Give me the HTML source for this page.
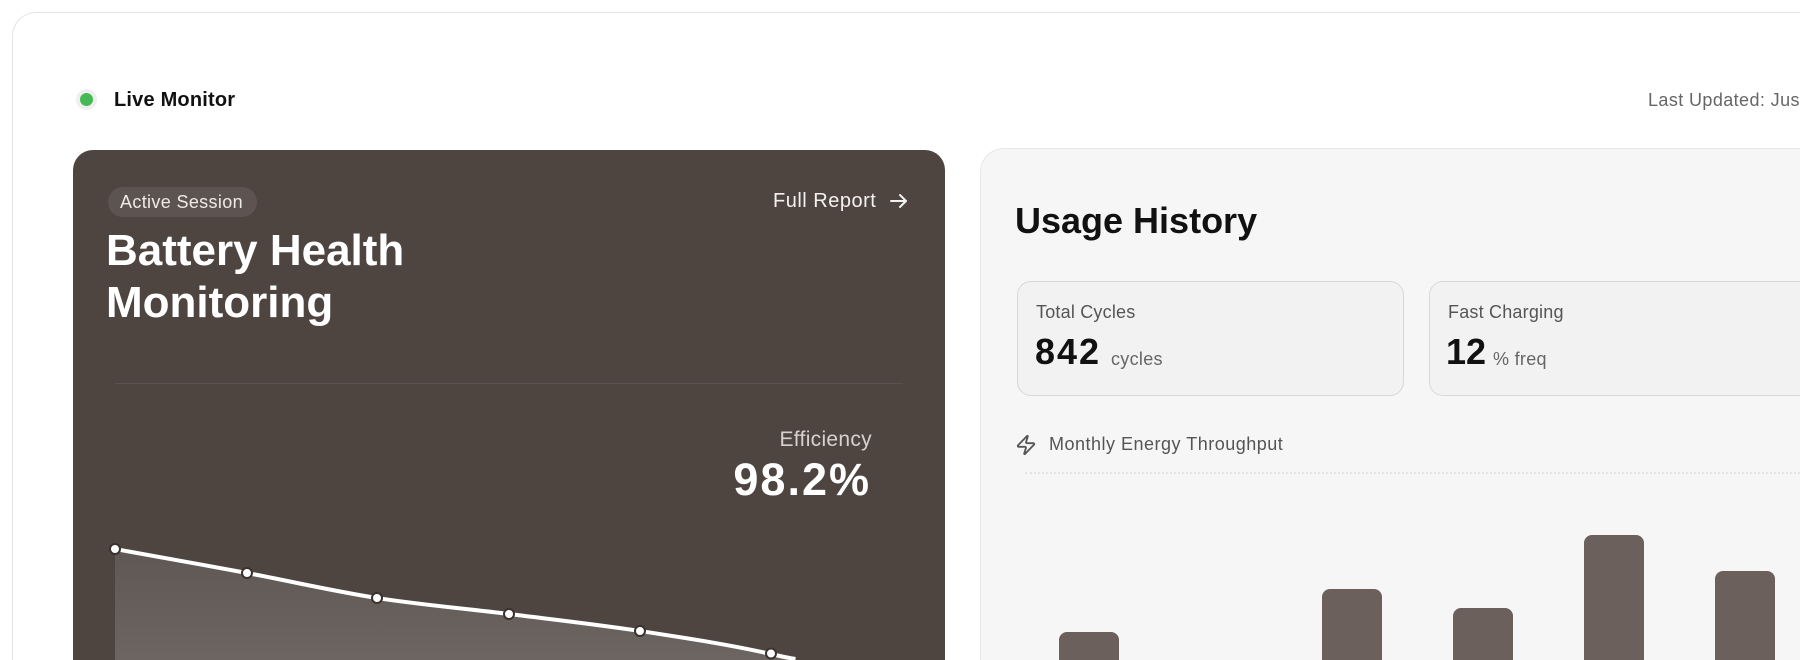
<!DOCTYPE html>
<html>
<head>
<meta charset="utf-8">
<style>
  html, body { margin:0; padding:0; width:1800px; height:660px; overflow:hidden; background:#ffffff; }
  #wrap { position:relative; width:1800px; height:660px; overflow:hidden; background:#fff;
          font-family:"Liberation Sans", Arial, sans-serif; }
  .abs { position:absolute; white-space:nowrap; line-height:1; }
  .outer { position:absolute; left:12px; top:12px; width:1788px; height:648px; box-sizing:border-box;
           border:1px solid #e4e4e4; border-right:none; border-bottom:none; border-radius:24px 0 0 0; background:#fff; }
  .dot { position:absolute; left:80px; top:93px; width:13px; height:13px; border-radius:50%;
         background:#45b954; box-shadow:0 0 0 4px #efefef; }
  .card { position:absolute; left:73px; top:150px; width:872px; height:510px;
          background:#4e4541; border-radius:20px 20px 0 0; }
  .pill { position:absolute; left:108px; top:187px; width:149px; height:30px;
          border-radius:15px; background:#5d5451; }
  .panel { position:absolute; left:980px; top:148px; width:820px; height:512px; box-sizing:border-box;
           background:#f6f6f6; border:1px solid #e6e6e6; border-right:none; border-bottom:none; border-radius:24px 0 0 0; }
  .stat { position:absolute; top:281px; height:115px; box-sizing:border-box; background:#f2f2f2;
          border:1px solid #d8d8d8; border-radius:14px; }
  .bar { position:absolute; width:60px; background:#6b605b; border-radius:8px 8px 0 0; }
</style>
</head>
<body>
<div id="wrap">
  <div class="outer"></div>

  <div class="dot"></div>
  <div class="abs" style="left:114px; top:90px; font-size:20px; font-weight:bold; color:#111; letter-spacing:0.2px;">Live Monitor</div>
  <div class="abs" style="left:1648px; top:91px; font-size:18px; color:#666; letter-spacing:0.4px;">Last Updated: Just now</div>

  <!-- Dark card -->
  <div class="card"></div>
  <div class="pill"></div>
  <div class="abs" style="left:120px; top:193px; font-size:18px; color:#eeeae8; letter-spacing:0.35px;">Active Session</div>
  <div class="abs" style="left:773px; top:191px; font-size:20px; color:#f4f2f1; letter-spacing:0.5px;">Full Report</div>
  <svg style="position:absolute; left:0; top:0;" width="1800" height="660">
    <g stroke="#f4f2f1" stroke-width="2" fill="none" stroke-linecap="round" stroke-linejoin="round">
      <line x1="891" y1="201" x2="906" y2="201"/>
      <polyline points="900,195 906,201 900,207"/>
    </g>
  </svg>
  <div class="abs" style="left:106px; top:229px; font-size:44px; font-weight:bold; color:#ffffff;">Battery Health</div>
  <div class="abs" style="left:106px; top:281px; font-size:44px; font-weight:bold; color:#ffffff;">Monitoring</div>
  <div style="position:absolute; left:115px; top:383px; width:788px; height:1px; background:#5b524f;"></div>
  <div class="abs" style="right:928px; top:429px; font-size:21px; color:#d8d2cf; letter-spacing:0.3px;">Efficiency</div>
  <div class="abs" style="right:929px; top:457px; font-size:45px; font-weight:bold; color:#ffffff; letter-spacing:2px;">98.2%</div>

  <svg style="position:absolute; left:0; top:0;" width="1800" height="660">
    <defs>
      <linearGradient id="ag" gradientUnits="userSpaceOnUse" x1="0" y1="549" x2="0" y2="660">
        <stop offset="0" stop-color="#ffffff" stop-opacity="0.10"/>
        <stop offset="1" stop-color="#ffffff" stop-opacity="0.17"/>
      </linearGradient>
    </defs>
    <path d="M115,549 C137,553 203.3,564.8 247,573 C290.7,581.2 333.3,591.2 377,598 C420.7,604.8 465.2,608.5 509,614 C552.8,619.5 596.3,624.3 640,631 C683.7,637.7 727.3,644.2 771,654 C779.3,655.9 787.6,657.9 795.5,660 L115,660 Z" fill="url(#ag)"/>
    <path d="M115,549 C137,553 203.3,564.8 247,573 C290.7,581.2 333.3,591.2 377,598 C420.7,604.8 465.2,608.5 509,614 C552.8,619.5 596.3,624.3 640,631 C683.7,637.7 727.3,644.2 771,654 C779.3,655.9 787.6,657.9 795.5,659" fill="none" stroke="#ffffff" stroke-width="4" stroke-linecap="butt"/>
    <g fill="#ffffff" stroke="#3a322f" stroke-width="2">
      <circle cx="115" cy="549" r="5"/>
      <circle cx="247" cy="573" r="5"/>
      <circle cx="377" cy="598" r="5"/>
      <circle cx="509" cy="614" r="5"/>
      <circle cx="640" cy="631" r="5"/>
      <circle cx="771" cy="653.5" r="5"/>
    </g>
  </svg>

  <!-- Right panel -->
  <div class="panel"></div>
  <div class="abs" style="left:1015px; top:203px; font-size:36px; font-weight:bold; color:#111;">Usage History</div>

  <div class="stat" style="left:1017px; width:387px;"></div>
  <div class="abs" style="left:1036px; top:303px; font-size:18px; color:#555; letter-spacing:0.2px;">Total Cycles</div>
  <div class="abs" style="left:1035px; top:334px; font-size:36px; font-weight:bold; color:#111; letter-spacing:2px;">842</div>
  <div class="abs" style="left:1111px; top:350px; font-size:18px; color:#666; letter-spacing:0.3px;">cycles</div>

  <div class="stat" style="left:1429px; width:371px; border-right:none; border-radius:14px 0 0 14px;"></div>
  <div class="abs" style="left:1448px; top:303px; font-size:18px; color:#555; letter-spacing:0.2px;">Fast Charging</div>
  <div class="abs" style="left:1446px; top:334px; font-size:36px; font-weight:bold; color:#111;">12</div>
  <div class="abs" style="left:1493px; top:350px; font-size:18px; color:#666; letter-spacing:0.3px;">% freq</div>

  <svg style="position:absolute; left:1015px; top:434px;" width="22" height="22" viewBox="0 0 24 24">
    <path d="M4 14a1 1 0 0 1-.78-1.63l9.9-10.2a.5.5 0 0 1 .86.46l-1.92 6.02A1 1 0 0 0 13 10h7a1 1 0 0 1 .78 1.63l-9.9 10.2a.5.5 0 0 1-.86-.46l1.92-6.02A1 1 0 0 0 11 14z" fill="none" stroke="#555" stroke-width="2" stroke-linejoin="round"/>
  </svg>
  <div class="abs" style="left:1049px; top:435px; font-size:18px; color:#555; letter-spacing:0.5px;">Monthly Energy Throughput</div>

  <div style="position:absolute; left:1025px; top:472px; width:775px; height:0; border-top:2px dotted #e3e3e3;"></div>

  <div class="bar" style="left:1059px; top:632px; height:28px;"></div>
  <div class="bar" style="left:1322px; top:589px; height:71px;"></div>
  <div class="bar" style="left:1453px; top:608px; height:52px;"></div>
  <div class="bar" style="left:1584px; top:535px; height:125px;"></div>
  <div class="bar" style="left:1715px; top:571px; height:89px;"></div>
</div>
</body>
</html>
